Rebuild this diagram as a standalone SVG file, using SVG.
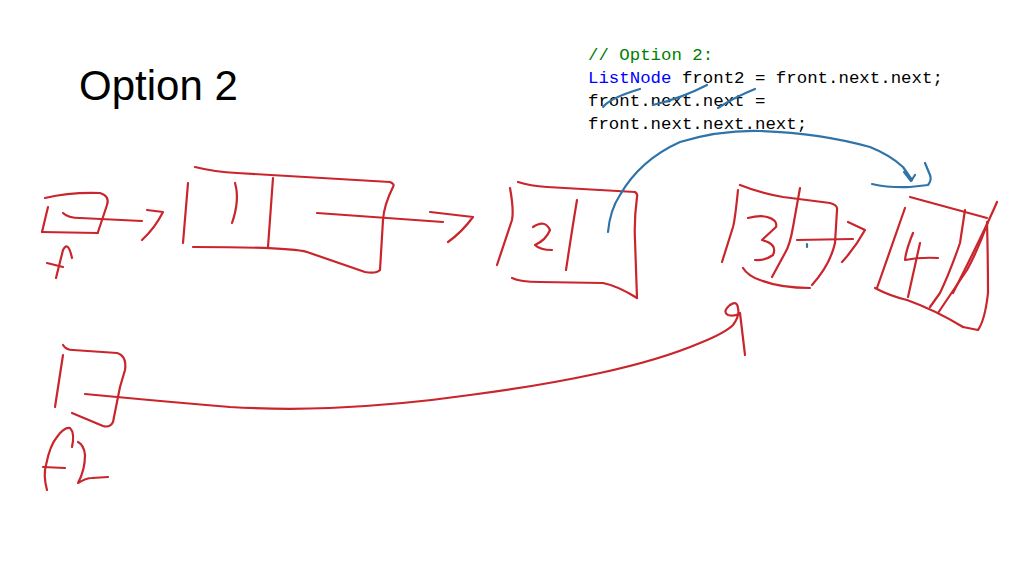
<svg xmlns="http://www.w3.org/2000/svg" width="1024" height="576" viewBox="0 0 1024 576">
<style>
.r{fill:none;stroke:#c9252c;stroke-width:2.2;stroke-linecap:round;stroke-linejoin:round}
.b{fill:none;stroke:#2f74a8;stroke-width:2.2;stroke-linecap:round;stroke-linejoin:round}
.code{font-family:"Liberation Mono","DejaVu Sans Mono",monospace;font-size:17.4px}
</style>
<rect width="1024" height="576" fill="#ffffff"/>
<text x="79" y="100" font-family="'Liberation Sans',Arial,sans-serif" font-size="42" fill="#000">Option 2</text>
<g class="code">
<text x="588" y="60" fill="#008000">// Option 2:</text>
<text x="588" y="83"><tspan fill="#0000ff">ListNode</tspan><tspan fill="#000"> front2 = front.next.next;</tspan></text>
<text x="588" y="106" fill="#000">front.next.next =</text>
<text x="588" y="129" fill="#000">front.next.next.next;</text>
</g>
<g id="strikes">
<path class="b" d="M603 107 Q610 98 640 89"/>
<path class="b" d="M653 105 Q682 98 707 85"/>
<path class="b" d="M718 108 Q735 97 755 89"/>
</g>
<g id="front">
<path class="r" d="M45 198 Q70 192 100 193 Q110 196 107 205 L98 232"/>
<path class="r" d="M42 232 L98 233"/>
<path class="r" d="M48 207 L42 232"/>
<path class="r" d="M47 263 L63 267"/>
<path class="r" d="M72 258 Q68 240 63 250 L56 278"/>
</g>
<g id="node1">
<path class="r" d="M195 167 Q215 172 237 173 L390 182 Q395 184 393 187 Q384 205 383 220 L380 270 Q376 274 365 272 L307 252 Q290 247 193 247"/>
<path class="r" d="M188 183 L183 243"/>
<path class="r" d="M235 183 Q240 200 232 223"/>
<path class="r" d="M273 178 L268 247"/>
</g>
<g id="node2">
<path class="r" d="M510 188 Q514 210 512 220 L497 265"/>
<path class="r" d="M518 182 Q530 186 547 187 L635 192 Q638 194 637 197 Q634 220 635 240 L637 298"/>
<path class="r" d="M512 278 Q520 282 540 282 L603 283 Q618 286 637 298"/>
<path class="r" d="M533 227 Q545 219 550 230 Q546 240 535 245 Q540 250 552 250"/>
<path class="r" d="M577 200 Q572 230 566 270"/>
</g>
<g id="node3">
<path class="r" d="M738 190 Q735 220 733 227 L722 262"/>
<path class="r" d="M740 185 Q760 193 783 197 L830 203 Q838 205 837 210 L835 243 Q830 265 812 285"/>
<path class="r" d="M743 268 Q748 276 760 280 Q780 288 810 288"/>
<path class="r" d="M748 218 Q760 215 767 217 Q778 220 776 227 L762 240 Q778 244 773 255 Q765 261 755 260"/>
<path class="r" d="M800 188 L793 227 Q790 245 785 253 L772 277"/>
</g>
<g id="node4">
<path class="r" d="M905 208 L877 288"/>
<path class="r" d="M910 197 L987 218"/>
<path class="r" d="M997 202 Q985 230 953 293"/>
<path class="r" d="M987 222 Q988 260 988 293 Q985 320 978 330 L963 327"/>
<path class="r" d="M875 288 Q890 296 907 300 Q935 310 963 327"/>
<path class="r" d="M913 233 Q906 250 905 260 Q920 257 938 258"/>
<path class="r" d="M920 243 L908 297"/>
<path class="r" d="M965 210 L960 243 Q950 272 940 293 L930 307"/>
<path class="r" d="M988 222 Q978 250 967 270 L938 313"/>
</g>
<g id="front2">
<path class="r" d="M63 345 Q66 350 73 350 L117 353 Q127 356 125 370 L120 387 L113 422 Q110 428 103 426 L72 413"/>
<path class="r" d="M63 355 L55 407"/>
<path class="r" d="M47 490 Q43 475 46 465 Q50 445 57 437 Q64 427 70 428 Q75 433 72 447"/>
<path class="r" d="M43 467 L65 468"/>
<path class="r" d="M78 442 Q84 445 85 455 Q85 470 78 483 Q86 478 92 478 L108 477"/>
</g>
<g id="connectors">
<path class="r" d="M63 213 Q68 218 80 218 L142 221"/>
<path class="r" d="M147 210 L163 212 Q155 228 142 240"/>
<path class="r" d="M317 213 L443 222"/>
<path class="r" d="M430 212 L473 217 Q462 232 448 242"/>
<path class="r" d="M797 240 L853 239"/>
<path class="b" d="M807 244 L807 247"/>
<path class="r" d="M848 222 L865 230 Q855 248 842 262"/>
<path class="r" d="M85 394 L117 397 Q170 402 230 407 Q280 410 330 408 Q400 405 470 395 Q540 386 600 373 Q660 360 700 343 Q725 333 733 325 Q740 316 738 308 Q737 300 730 305 Q722 312 728 315 Q735 317 740 313 Q742 330 745 355"/>
<path class="b" d="M608 232 Q610 210 620 195 Q640 160 680 142 Q720 130 760 131 Q820 133 870 147 Q890 155 903 167 L912 180"/>
<path class="b" d="M904 172 L911 181 L915 175"/>
<path class="b" d="M872 184 Q890 188 910 187 L928 185 Q932 180 930 175 L925 163"/>
</g>
</svg>
